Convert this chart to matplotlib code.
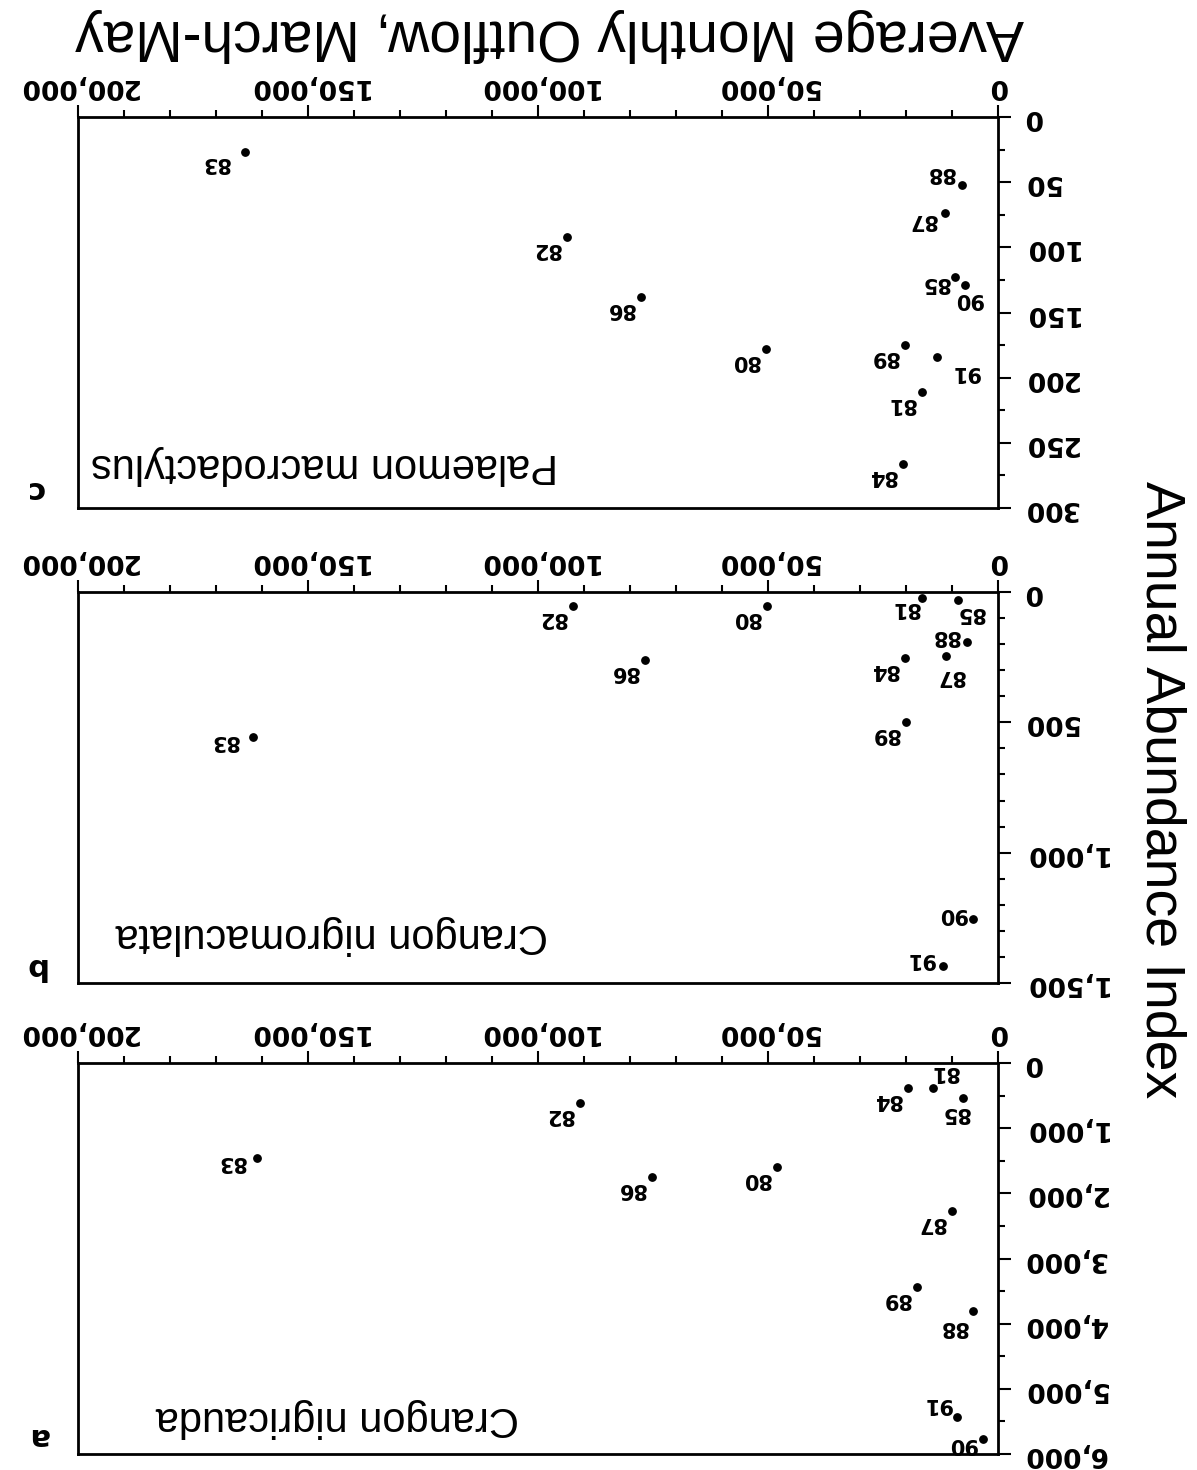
import matplotlib
matplotlib.use("Agg")
from matplotlib import pyplot as plt
from matplotlib.ticker import FuncFormatter, MultipleLocator

# data: average monthly outflow (x) vs annual abundance index (y), by year
years_c = ["83", "82", "88", "87", "85", "90", "86", "80", "89", "91", "81", "84"]
outflow_c = [163700, 93700, 7800, 11500, 9300, 7200, 77600, 50400, 20200, 13300, 16500, 20700]
abund_c = [27, 92, 52, 74, 123, 129, 138, 178, 175, 184, 211, 266]

years_b = ["82", "80", "81", "85", "88", "87", "84", "86", "89", "83", "90", "91"]
outflow_b = [92400, 50200, 16500, 8700, 6700, 11300, 20200, 76700, 20000, 162000, 5400, 12000]
abund_b = [53, 53, 23, 30, 191, 245, 252, 260, 497, 558, 1255, 1435]

years_a = ["81", "84", "85", "82", "83", "80", "86", "87", "89", "88", "91", "90"]
outflow_a = [14100, 19600, 7600, 90900, 161000, 48000, 75200, 10000, 17600, 5400, 8900, 3300]
abund_a = [381, 381, 535, 610, 1455, 1590, 1745, 2275, 3445, 3805, 5435, 5765]

species = ["Palaemon macrodactylus", "Crangon nigromaculata", "Crangon nigricauda"]
panel_letters = ["c", "b", "a"]

# label offsets (pixels) where they differ from the default
default_off = (-21, -12)
offsets_c = {"88": (-22, 12), "87": (-23, -7), "85": (-20, -6), "90": (3, -14),
             "91": (28, -15), "83": (-30, -11)}
offsets_b = {"81": (-17, -10), "85": (12, -13), "88": (-22, 6), "87": (4, -20),
             "83": (-29, -4), "90": (-21, 5), "91": (-22, 7)}
offsets_a = {"81": (11, 16), "85": (-8, -15), "83": (-26, -4), "91": (-20, 13),
             "90": (-21, -5), "88": (-20, -16)}

W, H = 1197, 1470
fig = plt.figure(figsize=(W / 100, H / 100), dpi=100)

left, right = 78, 998
panels = [
    (117, 508, years_c, outflow_c, abund_c, 300, 50, 25, offsets_c),
    (592, 983, years_b, outflow_b, abund_b, 1500, 500, 100, offsets_b),
    (1063, 1454, years_a, outflow_a, abund_a, 6000, 1000, 500, offsets_a),
]
label_pos = [(325, 465), (332, 935), (337, 1418)]
letter_pos = [(35, 490), (35, 967), (38, 1437)]

fmt = FuncFormatter(lambda v, p: f"{v:,.0f}")

for i, (top, bot, yrs, xs, ys, ymax, ymaj, ymin, offs) in enumerate(panels):
    ax = fig.add_axes([left / W, 1 - bot / H, (right - left) / W, (bot - top) / H])
    ax.scatter(xs, ys, s=28, color="k", zorder=3, clip_on=False)
    for yr, xv, yv in zip(yrs, xs, ys):
        dx, dy = offs.get(yr, default_off)
        ax.annotate(yr, (xv, yv), xytext=(dx, dy), textcoords="offset pixels",
                    rotation=180, ha="center", va="center", fontsize=15,
                    fontweight="bold", family="DejaVu Sans")
    ax.set_xlim(200000, 0)
    ax.set_ylim(ymax, 0)
    ax.xaxis.set_major_locator(MultipleLocator(50000))
    ax.xaxis.set_minor_locator(MultipleLocator(10000))
    ax.yaxis.set_major_locator(MultipleLocator(ymaj))
    ax.yaxis.set_minor_locator(MultipleLocator(ymin))
    ax.xaxis.set_major_formatter(fmt)
    ax.yaxis.set_major_formatter(fmt)
    ax.xaxis.tick_top()
    ax.yaxis.tick_right()
    ax.tick_params(which="both", direction="out", width=1.5, labelrotation=180,
                   labelsize=19, top=True, right=True, bottom=False, left=False)
    ax.tick_params(axis="x", pad=4)
    ax.tick_params(axis="y", pad=9)
    ax.tick_params(which="major", length=9)
    ax.tick_params(which="minor", length=5)
    for lab in ax.get_xticklabels() + ax.get_yticklabels():
        lab.set_fontweight("bold")
    for lab in ax.get_yticklabels():
        lab.set_verticalalignment("center")
    for sp in ax.spines.values():
        sp.set_linewidth(2)
    lx, ly = label_pos[i]
    fig.text(lx / W, 1 - ly / H, species[i], rotation=180, ha="center", va="center",
             fontsize=30, family="Liberation Sans")
    px, py = letter_pos[i]
    fig.text(px / W, 1 - py / H, panel_letters[i], rotation=180, ha="center",
             va="center", fontsize=22, fontweight="bold", family="DejaVu Sans")

fig.text(550 / W, 1 - 35 / H, "Average Monthly Outflow, March-May", rotation=180,
         ha="center", va="center", fontsize=41, family="Liberation Sans")
fig.text(1160 / W, 1 - 790 / H, "Annual Abundance Index", rotation=270,
         ha="center", va="center", fontsize=40, family="Liberation Sans")

fig.savefig("out.png", dpi=100)
